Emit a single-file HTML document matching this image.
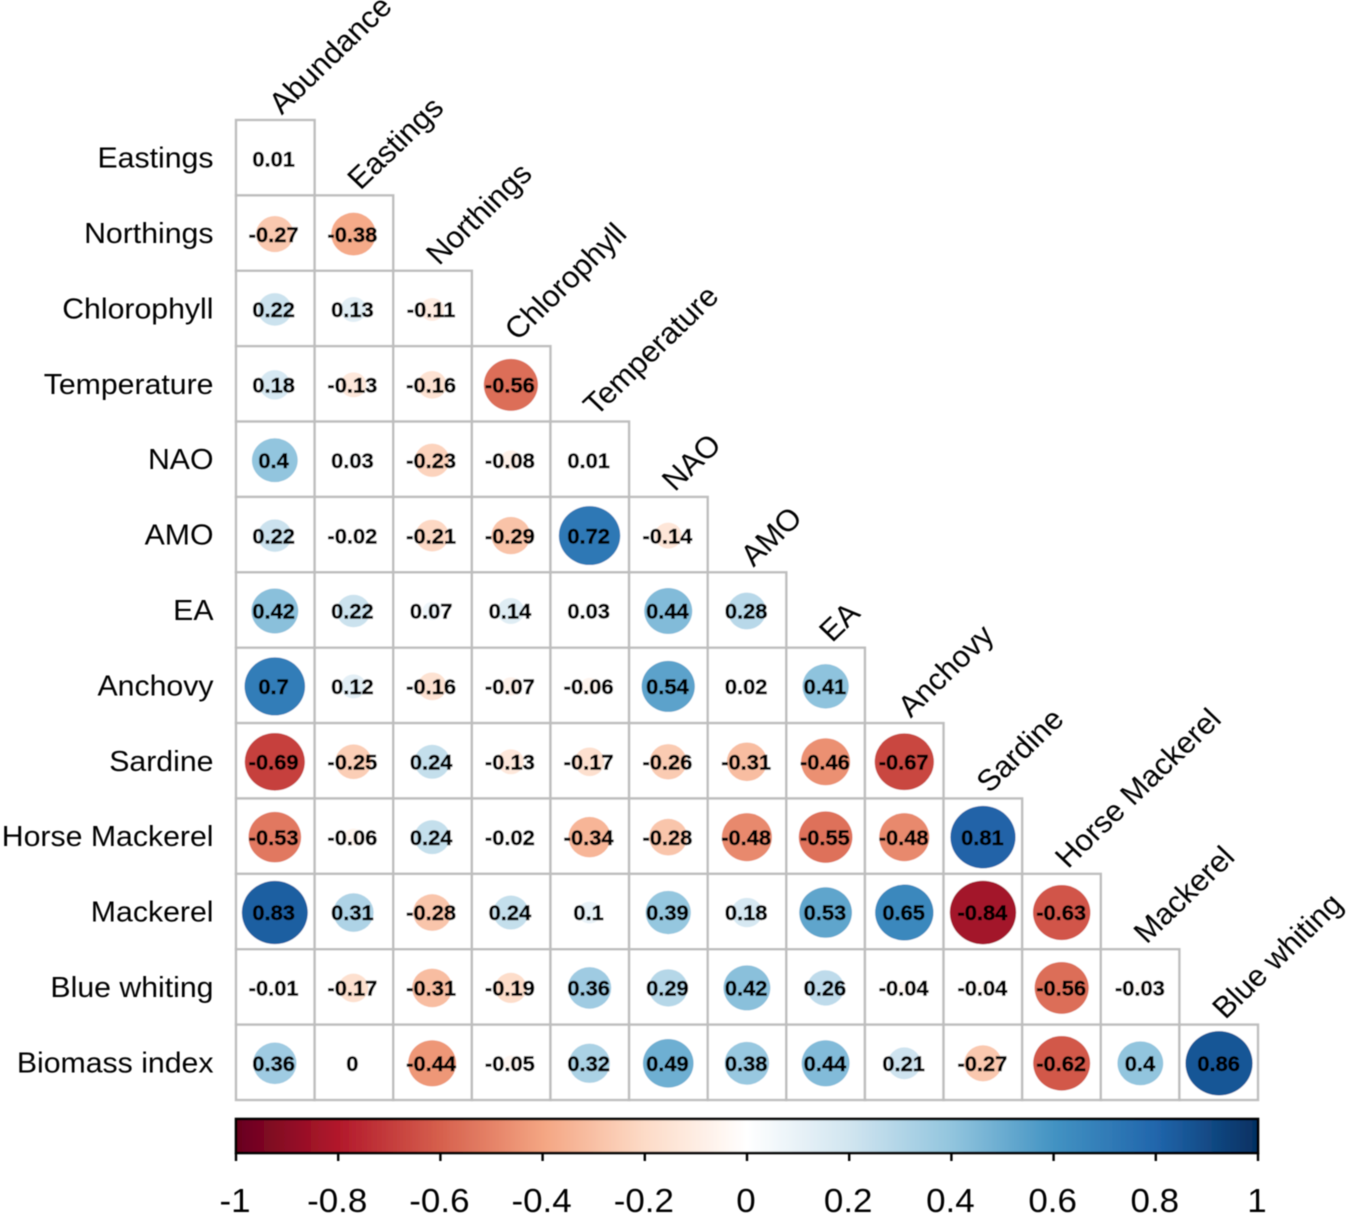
<!DOCTYPE html>
<html lang="en">
<head>
<meta charset="utf-8">
<title>Correlation matrix</title>
<style>
html,body{margin:0;padding:0;background:#fff;}
svg{display:block;font-family:"Liberation Sans",sans-serif;}
.val{font-weight:700;stroke:#000;stroke-width:0.45px;}
</style>
</head>
<body>
<svg id="chart" xmlns="http://www.w3.org/2000/svg" width="1350" height="1215" viewBox="0 0 1350 1215">
<defs>
<linearGradient id="colorbar-gradient" x1="0" x2="1" y1="0" y2="0"></linearGradient>
<filter id="soft" x="-5%" y="-5%" width="110%" height="110%"><feGaussianBlur stdDeviation="0.4"/></filter>
</defs>
<g id="plot" filter="url(#soft)">
<g id="grid"></g>
<g id="row-labels"></g>
<g id="col-labels"></g>
<g id="colorbar"></g>
</g>
</svg>
<script>
const rowLabels = ["Eastings","Northings","Chlorophyll","Temperature","NAO","AMO","EA","Anchovy","Sardine","Horse Mackerel","Mackerel","Blue whiting","Biomass index"];
const colLabels = ["Abundance","Eastings","Northings","Chlorophyll","Temperature","NAO","AMO","EA","Anchovy","Sardine","Horse Mackerel","Mackerel","Blue whiting"];
const rowEastings = [0.01];
const rowNorthings = [-0.27,-0.38];
const rowChlorophyll = [0.22,0.13,-0.11];
const rowTemperature = [0.18,-0.13,-0.16,-0.56];
const rowNAO = [0.4,0.03,-0.23,-0.08,0.01];
const rowAMO = [0.22,-0.02,-0.21,-0.29,0.72,-0.14];
const rowEA = [0.42,0.22,0.07,0.14,0.03,0.44,0.28];
const rowAnchovy = [0.7,0.12,-0.16,-0.07,-0.06,0.54,0.02,0.41];
const rowSardine = [-0.69,-0.25,0.24,-0.13,-0.17,-0.26,-0.31,-0.46,-0.67];
const rowHorseMackerel = [-0.53,-0.06,0.24,-0.02,-0.34,-0.28,-0.48,-0.55,-0.48,0.81];
const rowMackerel = [0.83,0.31,-0.28,0.24,0.1,0.39,0.18,0.53,0.65,-0.84,-0.63];
const rowBlueWhiting = [-0.01,-0.17,-0.31,-0.19,0.36,0.29,0.42,0.26,-0.04,-0.04,-0.56,-0.03];
const rowBiomassIndex = [0.36,0,-0.44,-0.05,0.32,0.49,0.38,0.44,0.21,-0.27,-0.62,0.4,0.86];
const colorbarTicks = [-1,-0.8,-0.6,-0.4,-0.2,0,0.2,0.4,0.6,0.8,1];
const paletteColors = ["#67001F","#B2182B","#D6604D","#F4A582","#FDDBC7","#FFFFFF","#D1E5F0","#92C5DE","#4393C3","#2166AC","#053061"];

const matrix = [rowEastings,rowNorthings,rowChlorophyll,rowTemperature,rowNAO,rowAMO,rowEA,rowAnchovy,rowSardine,rowHorseMackerel,rowMackerel,rowBlueWhiting,rowBiomassIndex];
const NS = "http://www.w3.org/2000/svg";
const gridLeft = 236, gridRight = 1258, gridTop = 120, gridBottom = 1100;
const stretchX = 1.043;
const cellW = (gridRight - gridLeft) / colLabels.length;
const cellH = (gridBottom - gridTop) / rowLabels.length;
const xScale = c => gridLeft + c * cellW;
const yScale = r => gridTop + r * cellH;
const radiusY = v => 34.7 * Math.sqrt(Math.abs(v));
const radiusX = v => radiusY(v) * stretchX;
const barX = v => gridLeft + (v + 1) / 2 * (gridRight - gridLeft);

function mk(tag, attrs, parent) {
  const el = document.createElementNS(NS, tag);
  for (const k in attrs) el.setAttribute(k, attrs[k]);
  parent.appendChild(el);
  return el;
}
function placed(x, y, extra) {
  return "translate(" + x + " " + y + ") scale(" + stretchX + " 1)" + (extra || "");
}
function hexToRgb(h) {
  return [1,3,5].map(i => parseInt(h.substr(i,2),16));
}
function colorFor(v) {
  const t = (v + 1) / 2 * (paletteColors.length - 1);
  const i = Math.min(Math.floor(t), paletteColors.length - 2);
  const f = t - i;
  const a = hexToRgb(paletteColors[i]), b = hexToRgb(paletteColors[i+1]);
  return "rgb(" + a.map((x,j) => Math.round(x + (b[j]-x)*f)).join(",") + ")";
}
function slug(s) {
  return s.toLowerCase().replace(/\s+/g,"-");
}

const grid = document.getElementById("grid");
const rowG = document.getElementById("row-labels");
const colG = document.getElementById("col-labels");
const barG = document.getElementById("colorbar");

matrix.forEach((vals, r) => {
  vals.forEach((v, c) => {
    const cell = mk("g", {}, grid);
    
    
    const rect = mk("rect", {x:xScale(c), y:yScale(r), width:cellW, height:cellH, fill:"#fff", stroke:"#bebebe", "stroke-width":2.4}, cell);
    
    
    const cx = xScale(c) + cellW/2 - 0.5 + 0.07 * c, cy = yScale(r) + cellH/2 + 1;
    const dot = mk("ellipse", {cx:cx, cy:cy, rx:radiusX(v), ry:radiusY(v), fill:colorFor(v)}, cell);
    
    
    const txt = mk("text", {x:0, y:0, transform:placed(cx - 1.2 + 0.07 * c, cy + 7.7), "text-anchor":"middle", "font-size":21, "class":"val", fill:"#000"}, cell);
    
    
    txt.textContent = String(v);
  });
});

rowLabels.forEach((s, r) => {
  const t = mk("text", {x:0, y:0, transform:placed(213.5, yScale(r)+cellH/2+10), "text-anchor":"end", "font-size":29, fill:"#000"}, rowG);
  
  
  t.textContent = s;
});

colLabels.forEach((s, c) => {
  const ax = xScale(c) + cellW/2 + 6.5, ay = yScale(c) - 4.5;
  const t = mk("text", {x:0, y:0, transform:placed(ax, ay, " rotate(-45)"), "font-size":30, fill:"#000"}, colG);
  
  
  t.textContent = s;
});

const gradient = document.getElementById("colorbar-gradient");
paletteColors.forEach((col, i) => {
  mk("stop", {offset:(i/(paletteColors.length-1)), "stop-color":col}, gradient);
});
const barRect = mk("rect", {x:gridLeft, y:1119, width:gridRight-gridLeft, height:34, fill:"url(#colorbar-gradient)", stroke:"#000", "stroke-width":2.6}, barG);


colorbarTicks.forEach(v => {
  const x = barX(v);
  const tick = mk("line", {x1:x, x2:x, y1:1153, y2:1161, stroke:"#000", "stroke-width":2.4}, barG);
  
  
  const lab = mk("text", {x:0, y:0, transform:placed(x-1, 1212), "text-anchor":"middle", "font-size":33.5, fill:"#000"}, barG);
  
  
  lab.textContent = String(v);
});
</script>
</body>
</html>
